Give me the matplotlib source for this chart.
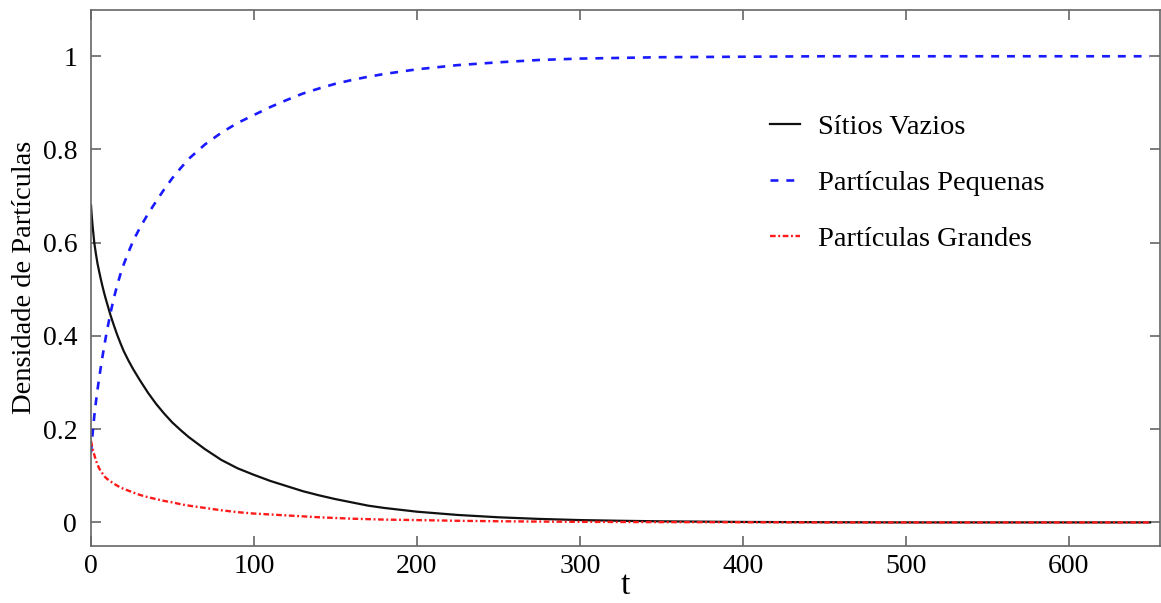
import matplotlib
matplotlib.use("Agg")
import matplotlib.pyplot as plt

# Data
t = [0, 0.5, 1, 2, 3, 4, 5, 6, 7, 8, 9, 10,
     12, 14, 16, 18, 20, 23, 26, 30, 35, 40,
     45, 50, 55, 60, 70, 80, 90, 100, 110, 120,
     130, 140, 150, 160, 170, 180, 190, 200, 225, 250,
     275, 300, 325, 350, 400, 450, 500, 550, 600, 650]

sitios_vazios = [0.68, 0.655, 0.635, 0.60, 0.576, 0.555, 0.538, 0.522, 0.507, 0.493, 0.48, 0.468,
                 0.444, 0.423, 0.403, 0.385, 0.368, 0.347, 0.328, 0.305, 0.278, 0.254,
                 0.233, 0.214, 0.198, 0.183, 0.157, 0.134, 0.116, 0.102, 0.089, 0.078,
                 0.067, 0.058, 0.050, 0.043, 0.036, 0.031, 0.027, 0.023, 0.016, 0.011,
                 0.0075, 0.005, 0.0035, 0.0023, 0.001, 0.0004, 0.0, 0.0, 0.0, 0.0]

particulas_pequenas = [0.15, 0.172, 0.192, 0.228, 0.258, 0.285, 0.31, 0.333, 0.355, 0.376, 0.396, 0.415,
                       0.45, 0.481, 0.508, 0.532, 0.553, 0.58, 0.605, 0.632, 0.662, 0.689,
                       0.715, 0.739, 0.76, 0.78, 0.811, 0.836, 0.857, 0.874, 0.891, 0.906,
                       0.92, 0.931, 0.941, 0.949, 0.956, 0.962, 0.967, 0.972, 0.981, 0.987,
                       0.992, 0.995, 0.9965, 0.998, 0.999, 1.0, 1.0, 1.0, 1.0, 1.0]

particulas_grandes = [0.175, 0.166, 0.158, 0.145, 0.133, 0.124, 0.116, 0.110, 0.105, 0.100, 0.096, 0.093,
                      0.088, 0.083, 0.079, 0.075, 0.072, 0.068, 0.064, 0.059, 0.054, 0.050,
                      0.046, 0.043, 0.039, 0.036, 0.031, 0.026, 0.022, 0.019, 0.017, 0.015,
                      0.013, 0.011, 0.0095, 0.008, 0.007, 0.006, 0.0055, 0.005, 0.0035, 0.0025,
                      0.0018, 0.0012, 0.0009, 0.0006, 0.0003, 0.0, 0.0, 0.0, 0.0, 0.0]

labels = ["Sítios Vazios", "Partículas Pequenas", "Partículas Grandes"]
x_ticks = [0, 100, 200, 300, 400, 500, 600]
y_ticks = [0, 0.2, 0.4, 0.6, 0.8, 1]
y_tick_labels = ["0", "0.2", "0.4", "0.6", "0.8", "1"]

plt.rcParams['font.family'] = ['Liberation Serif', 'DejaVu Serif']

fig = plt.figure(figsize=(11.61, 6.03), dpi=100)
ax = fig.add_axes([0.0784, 0.095, 0.9206, 0.889])

ax.plot(t, sitios_vazios, color='#111111', lw=1.6, label=labels[0])
ax.plot(t, particulas_pequenas, color='#1a1aff', lw=1.9, dashes=(3, 3), label=labels[1])
ax.plot(t, particulas_grandes, color='#ff1a1a', lw=1.7, dashes=(2.4, 1.1, 0.8, 1.1), label=labels[2])

ax.set_xlim(0, 656)
ax.set_ylim(-0.05, 1.1)
ax.set_xticks(x_ticks)
ax.set_yticks(y_ticks)
ax.set_yticklabels(y_tick_labels)

for s in ax.spines.values():
    s.set_color('#666666')
    s.set_linewidth(1.2)
ax.tick_params(direction='in', length=7, width=1.2, color='#666666',
               top=True, right=True, labelsize=20, labelcolor='black')
ax.tick_params(axis='y', pad=10)
ax.tick_params(axis='x', pad=6)

ax.set_xlabel('t', fontsize=24, labelpad=-6)
ax.set_ylabel('Densidade de Partículas', fontsize=20.5, labelpad=4)

leg = ax.legend(loc='center left', bbox_to_anchor=(0.635, 0.677), frameon=False,
                fontsize=20.5, handlelength=1.05, handletextpad=0.65, labelspacing=1.05,
                borderpad=0, borderaxespad=0)

fig.savefig('out.png', dpi=100)
